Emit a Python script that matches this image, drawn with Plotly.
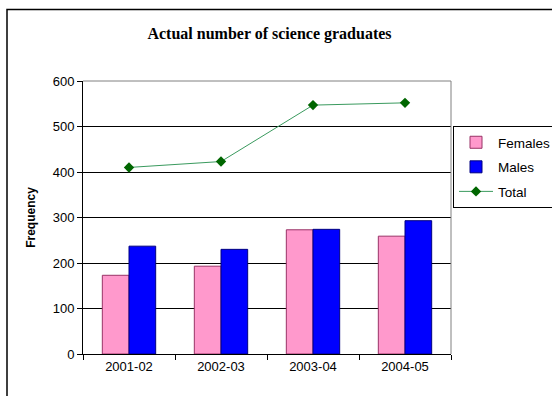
import plotly.graph_objects as go

# Graduate counts per academic year
years = ["2001-02", "2002-03", "2003-04", "2004-05"]
females = [173, 193, 273, 259]
males = [237, 230, 274, 293]
total = [410, 423, 547, 552]
y_ticks = [0, 100, 200, 300, 400, 500, 600]

W, H = 552, 396
L, R, T, B = 83, 101, 81, 42
pw, ph = W - L - R, H - T - B

fig = go.Figure()
fig.add_bar(x=years, y=females, name="Females", legendgroup="f",
            marker=dict(color="#FF99CC", line=dict(color="#993366", width=1)))
fig.add_bar(x=years, y=males, name="Males", legendgroup="m",
            marker=dict(color="#0000FF", line=dict(color="#000080", width=1)))
fig.add_scatter(x=years, y=total, name="Total", legendgroup="t", mode="lines+markers",
                line=dict(color="#3A9A5E", width=1),
                marker=dict(symbol="diamond", size=8, color="#006600"))

axis_font = dict(family="Liberation Sans, Arial, sans-serif", size=13, color="#000000")

fig.update_layout(
    width=W, height=H,
    margin=dict(l=L, r=R, t=T, b=B, autoexpand=False),
    paper_bgcolor="white", plot_bgcolor="white",
    barmode="group", bargap=0.42, bargroupgap=0,
    title=dict(text="<b>Actual number of science graduates</b>",
               font=dict(family="Liberation Serif, Times New Roman, serif", size=16, color="black"),
               x=269.5 / W, xanchor="center", y=1 - 33 / H, yanchor="middle"),
    legend=dict(x=(453 - L) / pw, xanchor="left", y=(H - B - 126) / ph, yanchor="top",
                bgcolor="white", bordercolor="black", borderwidth=1,
                font=dict(family="Liberation Sans, Arial, sans-serif", size=13.5, color="#000000"),
                tracegroupgap=4, traceorder="grouped", itemwidth=34),
    showlegend=True,
)
fig.update_xaxes(type="category", showline=True, linecolor="black", linewidth=1,
                 ticks="outside", tickson="boundaries", ticklen=5, tickcolor="black",
                 showgrid=False, tickfont=axis_font)
fig.update_yaxes(range=[0, 600], tickvals=y_ticks, showline=True, linecolor="black", linewidth=1,
                 ticks="outside", ticklen=5, tickcolor="black",
                 showgrid=True, gridcolor="black", gridwidth=1, zeroline=False,
                 tickfont=axis_font,
                 title=dict(text="<b>Frequency</b>", font=dict(family="Liberation Sans, Arial, sans-serif", size=12, color="black"),
                            standoff=14))

# grey frame on the top and right of the plot area
fig.add_shape(type="line", xref="paper", yref="paper", x0=0, x1=1, y0=1, y1=1,
              line=dict(color="#808080", width=1), layer="above")
fig.add_shape(type="line", xref="paper", yref="paper", x0=1, x1=1, y0=0, y1=1,
              line=dict(color="#808080", width=1), layer="above")

# outer chart border
fig.add_shape(type="rect", xref="paper", yref="paper",
              x0=(7 - L) / pw, x1=(W + 20 - L) / pw,
              y0=-(B + 20) / ph, y1=(H - B - 9.5) / ph,
              line=dict(color="black", width=1.5), layer="below")

fig.write_html("out.html")
